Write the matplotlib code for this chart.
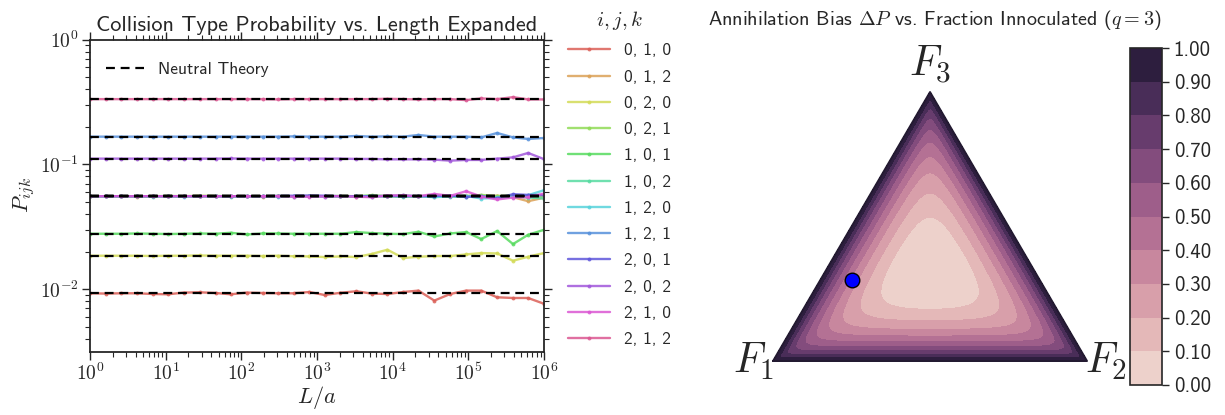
import numpy as np
import matplotlib
matplotlib.use("Agg")
import matplotlib.pyplot as plt
import matplotlib.tri as mtri
import seaborn as sns
from matplotlib.ticker import FuncFormatter, LogLocator, NullFormatter
from matplotlib.colors import ListedColormap

# ---------------- data: collision type probabilities ----------------
log_length = [0.00, 0.21, 0.41, 0.62, 0.83, 1.03, 1.24, 1.45, 1.66, 1.86,
              2.07, 2.28, 2.48, 2.69, 2.90, 3.10, 3.31, 3.52, 3.72, 3.93,
              4.14, 4.34, 4.55, 4.76, 4.97, 5.17, 5.38, 5.59, 5.79, 6.00]

collision_types = ["0, 1, 0", "0, 1, 2", "0, 2, 0", "0, 2, 1", "1, 0, 1", "1, 0, 2",
                   "1, 2, 0", "1, 2, 1", "2, 0, 1", "2, 0, 2", "2, 1, 0", "2, 1, 2"]

neutral_theory = [1 / 108, 1 / 18, 1 / 54, 1 / 18, 1 / 36, 1 / 18,
                  1 / 18, 1 / 6, 1 / 18, 1 / 9, 1 / 18, 1 / 3]

p_010 = [0.00926, 0.00921, 0.00926, 0.00926, 0.00914, 0.00909, 0.00938, 0.00943, 0.00931, 0.00909,
         0.00938, 0.00931, 0.00926, 0.00926, 0.00948, 0.00897, 0.00935, 0.00961, 0.00921, 0.00914,
         0.00948, 0.00973, 0.00809, 0.00914, 0.00973, 0.00973, 0.00860, 0.00849, 0.00849, 0.00763]
p_012 = [0.05556, 0.05556, 0.05556, 0.05525, 0.05556, 0.05556, 0.05556, 0.05586, 0.05556, 0.05556,
         0.05556, 0.05525, 0.05556, 0.05556, 0.05586, 0.05556, 0.05556, 0.05525, 0.05556, 0.05586,
         0.05556, 0.05556, 0.05525, 0.05556, 0.05586, 0.05556, 0.05607, 0.05454, 0.05067, 0.05404]
p_020 = [0.01852, 0.01852, 0.01852, 0.01852, 0.01842, 0.01852, 0.01852, 0.01862, 0.01852, 0.01852,
         0.01852, 0.01842, 0.01852, 0.01835, 0.01828, 0.01808, 0.01828, 0.01808, 0.01911, 0.02069,
         0.01775, 0.01818, 0.01842, 0.01842, 0.01897, 0.01946, 0.01932, 0.01689, 0.01818, 0.01946]
p_021 = [0.05556, 0.05556, 0.05556, 0.05556, 0.05556, 0.05586, 0.05556, 0.05586, 0.05586, 0.05556,
         0.05556, 0.05556, 0.05586, 0.05556, 0.05556, 0.05556, 0.05586, 0.05556, 0.05659, 0.05556,
         0.05586, 0.05556, 0.05628, 0.05556, 0.05556, 0.05690, 0.05556, 0.05628, 0.05525, 0.05525]
p_101 = [0.02778, 0.02778, 0.02778, 0.02793, 0.02778, 0.02763, 0.02778, 0.02793, 0.02778, 0.02830,
         0.02742, 0.02793, 0.02793, 0.02778, 0.02778, 0.02778, 0.02778, 0.02866, 0.02814, 0.02778,
         0.02763, 0.02882, 0.02643, 0.02793, 0.02866, 0.02520, 0.02919, 0.02297, 0.02727, 0.02990]
p_102 = [0.05556, 0.05556, 0.05556, 0.05556, 0.05525, 0.05556, 0.05556, 0.05556, 0.05556, 0.05525,
         0.05556, 0.05556, 0.05556, 0.05525, 0.05556, 0.05556, 0.05556, 0.05556, 0.05525, 0.05556,
         0.05484, 0.05556, 0.05556, 0.05525, 0.05505, 0.05556, 0.05454, 0.05556, 0.05424, 0.05325]
p_120 = [0.05556, 0.05556, 0.05556, 0.05556, 0.05556, 0.05556, 0.05525, 0.05556, 0.05556, 0.05556,
         0.05556, 0.05556, 0.05525, 0.05556, 0.05556, 0.05484, 0.05556, 0.05556, 0.05586, 0.05556,
         0.05659, 0.05556, 0.05454, 0.05556, 0.05586, 0.05325, 0.05384, 0.05525, 0.05659, 0.06205]
p_121 = [0.1667, 0.1667, 0.1667, 0.1667, 0.1667, 0.1667, 0.1667, 0.1667, 0.1667, 0.1667,
         0.1667, 0.1667, 0.1667, 0.1676, 0.1667, 0.1667, 0.1667, 0.1688, 0.1667, 0.1676,
         0.1667, 0.1720, 0.1667, 0.1667, 0.1667, 0.1645, 0.1784, 0.1645, 0.1598, 0.1627]
p_201 = [0.05556, 0.05556, 0.05556, 0.05556, 0.05556, 0.05556, 0.05556, 0.05556, 0.05556, 0.05556,
         0.05556, 0.05556, 0.05586, 0.05607, 0.05628, 0.05607, 0.05556, 0.05556, 0.05556, 0.05586,
         0.05556, 0.05556, 0.05586, 0.05628, 0.05484, 0.05556, 0.05355, 0.05764, 0.05690, 0.05659]
p_202 = [0.1111, 0.1111, 0.1111, 0.1111, 0.1111, 0.1111, 0.1111, 0.1111, 0.1111, 0.1115,
         0.1111, 0.1111, 0.1111, 0.1111, 0.1111, 0.1111, 0.1111, 0.1105, 0.1105, 0.1097,
         0.1097, 0.1097, 0.1091, 0.1071, 0.1085, 0.1085, 0.1111, 0.1138, 0.1234, 0.1101]
p_210 = [0.05556, 0.05556, 0.05556, 0.05556, 0.05556, 0.05556, 0.05556, 0.05556, 0.05556, 0.05556,
         0.05556, 0.05556, 0.05556, 0.05505, 0.05505, 0.05525, 0.05556, 0.05505, 0.05454, 0.05628,
         0.05659, 0.05556, 0.05796, 0.05586, 0.06091, 0.05525, 0.05228, 0.05424, 0.05454, 0.05839]
p_212 = [0.3333, 0.3333, 0.3333, 0.3333, 0.3333, 0.3333, 0.3333, 0.3333, 0.3333, 0.3333,
         0.3333, 0.3333, 0.3315, 0.3333, 0.3333, 0.3333, 0.3333, 0.3333, 0.3333, 0.3352,
         0.3333, 0.3315, 0.3333, 0.3333, 0.3273, 0.3377, 0.3333, 0.3458, 0.3315, 0.3315]

series = [p_010, p_012, p_020, p_021, p_101, p_102,
          p_120, p_121, p_201, p_202, p_210, p_212]

# ---------------- data: annihilation bias over the simplex ----------------
bias_levels = [0.0, 0.1, 0.2, 0.3, 0.4, 0.5, 0.6, 0.7, 0.8, 0.9, 1.0]
# F3 where each inner contour (0.1 ... 0.9) crosses the F3 median, below / above the centre
contour_f3_below = [0.189, 0.146, 0.113, 0.091, 0.070, 0.052, 0.037, 0.024, 0.012]
contour_f3_above = [0.530, 0.616, 0.689, 0.756, 0.811, 0.860, 0.902, 0.939, 0.970]
marked_point = (0.6, 0.1, 0.3)  # (F1, F2, F3)

# ---------------- style ----------------
sns.set_style("ticks")
plt.rcParams["font.family"] = ["cmss10", "DejaVu Sans"]
plt.rcParams["mathtext.fontset"] = "cm"
plt.rcParams["axes.unicode_minus"] = False
text_col = "#262626"

fig = plt.figure(figsize=(12.25, 4.15), dpi=100)

# ---------------- left panel ----------------
ax = fig.add_axes([0.0735, 0.153, 0.3706, 0.7516])
colors = sns.color_palette("hls", 12)
L = np.power(10.0, log_length)

lines = []
for vals, lab, col in zip(series, collision_types, colors):
    ln, = ax.plot(L, vals, color=col, lw=1.7, marker="o", ms=2.8, mew=0,
                  alpha=0.85, label=lab)
    lines.append(ln)

nt = None
for v in neutral_theory:
    nt = ax.axhline(v, color="black", ls="--", lw=1.6, dashes=(4, 2.6), zorder=5)

ax.set_xscale("log")
ax.set_yscale("log")
ax.set_xlim(1, 1e6)
ax.set_ylim(10 ** -2.5, 1)

dec_fmt = FuncFormatter(lambda v, p: r"$10^{%d}$" % int(round(np.log10(v))))
ax.xaxis.set_major_formatter(dec_fmt)
ax.yaxis.set_major_formatter(dec_fmt)
ax.xaxis.set_minor_formatter(NullFormatter())
ax.yaxis.set_minor_formatter(NullFormatter())
ax.yaxis.set_major_locator(LogLocator(base=10, numticks=10))
ax.tick_params(which="both", direction="out", top=True, right=True,
               colors=text_col, labelsize=14, pad=2)
ax.tick_params(which="major", length=6, width=1)
ax.tick_params(which="minor", length=3.5, width=0.8)
for s in ax.spines.values():
    s.set_color(text_col)
    s.set_linewidth(1.3)

ax.set_xlabel(r"$L/a$", fontsize=16, color=text_col, labelpad=0)
ax.set_ylabel(r"$P_{ijk}$", fontsize=16, color=text_col, labelpad=2)
ax.set_title("Collision Type Probability vs. Length Expanded", fontsize=16,
             color=text_col, pad=6)

leg_nt = ax.legend([nt], ["Neutral Theory"], loc="upper left", frameon=False,
                   fontsize=12.5, handlelength=2.2, bbox_to_anchor=(0.0, 0.98))
leg = ax.legend(lines, collision_types, loc="upper left", frameon=False,
                bbox_to_anchor=(1.019, 1.148), fontsize=12.5, title=r"$i, j, k$",
                title_fontsize=15, handlelength=2.4, labelspacing=0.64,
                handletextpad=0.8)
ax.add_artist(leg_nt)

# ---------------- right panel: ternary contour ----------------
tax = fig.add_axes([0.5878, 0.0361, 0.3265, 0.8193])
tax.set_xlim(-0.1688, 1.1051)
tax.set_ylim(-0.1256, 0.9691)
tax.axis("off")

h = np.sqrt(3) / 2
n = 240
ii, jj = np.meshgrid(np.arange(n + 1), np.arange(n + 1))
m = (ii + jj) <= n
f2 = ii[m] / n
f3 = jj[m] / n
f1 = 1 - f2 - f3
tx = f2 + f3 / 2
ty = f3 * h


def shape(a1, a2, a3, p=2.6):
    f = np.clip(np.stack([a1, a2, a3]), 1e-9, None)
    return (np.sum(f ** -p, axis=0) / (3 * 3 ** p)) ** (-1 / p)


b = np.array(contour_f3_below)
a = np.array(contour_f3_above)
g_lev = 0.5 * (shape((1 - b) / 2, (1 - b) / 2, b) + shape((1 - a) / 2, (1 - a) / 2, a))
inner = np.array(bias_levels[1:-1])
xp = np.concatenate([[0.0], g_lev[::-1], [1.0]])
fp = np.concatenate([[1.0], inner[::-1], [0.0]])
dP = np.interp(shape(f1, f2, f3), xp, fp)

cmap = ListedColormap(sns.cubehelix_palette(10))
tri = mtri.Triangulation(tx, ty)
cs = tax.tricontourf(tri, np.clip(dP, 0, 0.9999), levels=bias_levels, cmap=cmap)
tax.plot([0, 1, 0.5, 0], [0, 0, h, 0], color="#231a31", lw=1.4, zorder=3)

mx = marked_point[1] + marked_point[2] / 2
my = marked_point[2] * h
tax.scatter([mx], [my], s=110, color="blue", edgecolors="black", linewidths=1, zorder=4)

tax.text(0.005, 0.0, r"$F_1$", fontsize=30, ha="right", va="center", color=text_col)
tax.text(0.995, 0.0, r"$F_2$", fontsize=30, ha="left", va="center", color=text_col)
tax.text(0.5, h + 0.02, r"$F_3$", fontsize=30, ha="center", va="bottom", color=text_col)

fig.text(0.763, 0.952, r"Annihilation Bias $\Delta P$ vs. Fraction Innoculated ($q = 3$)",
         fontsize=14.5, ha="center", va="center", color=text_col)

cax = fig.add_axes([0.9224, 0.0723, 0.0261, 0.812])
cb = fig.colorbar(cs, cax=cax, ticks=bias_levels, format="%.2f")
cb.outline.set_edgecolor(text_col)
cb.outline.set_linewidth(1.2)
cax.tick_params(labelsize=15, colors=text_col, length=5, width=1)

fig.savefig("out.png", dpi=100)
